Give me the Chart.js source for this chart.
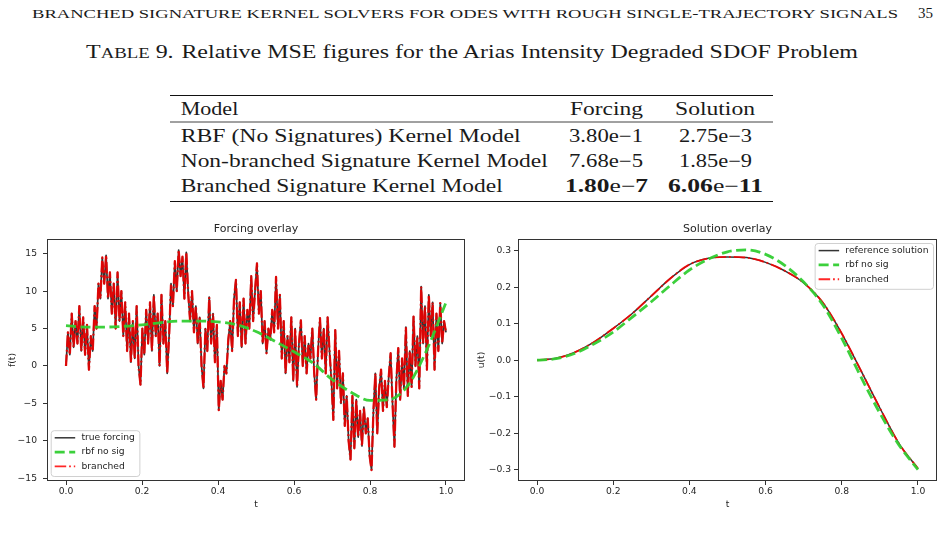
<!DOCTYPE html>
<html><head><meta charset="utf-8">
<script src="https://cdn.jsdelivr.net/npm/chart.js@4.4.1/dist/chart.umd.min.js"></script>
<style>
html,body{margin:0;padding:0;background:#fff;width:947px;height:543px;overflow:hidden;}
svg{position:absolute;left:0;top:0;}
.cv{position:absolute;}
</style></head><body>
<svg width="947" height="215" font-family="Liberation Serif" fill="#1a1a1a">
  <text x="32" y="18.3" font-size="13.5" textLength="866" lengthAdjust="spacingAndGlyphs">BRANCHED SIGNATURE KERNEL SOLVERS FOR ODES WITH ROUGH SINGLE-TRAJECTORY SIGNALS</text>
  <text x="918" y="18.3" font-size="14" textLength="15" lengthAdjust="spacingAndGlyphs">35</text>
  <text x="86" y="58.3" font-size="18.5" textLength="772" lengthAdjust="spacingAndGlyphs">T<tspan font-size="14.5">ABLE</tspan> 9.<tspan dx="6">Relative MSE figures for the Arias Intensity Degraded SDOF Problem</tspan></text>
  <line x1="170" y1="95.5" x2="773" y2="95.5" stroke="#111" stroke-width="1"/>
  <line x1="170" y1="122" x2="773" y2="122" stroke="#111" stroke-width="0.8"/>
  <line x1="170" y1="201.5" x2="773" y2="201.5" stroke="#111" stroke-width="1"/>
  <g font-size="18">
    <text x="180.7" y="115.3" textLength="57.6" lengthAdjust="spacingAndGlyphs">Model</text>
    <text x="570" y="115.3" textLength="73" lengthAdjust="spacingAndGlyphs">Forcing</text>
    <text x="675" y="115.3" textLength="80" lengthAdjust="spacingAndGlyphs">Solution</text>
    <text x="180.7" y="142.3" textLength="340" lengthAdjust="spacingAndGlyphs">RBF (No Signatures) Kernel Model</text>
    <text x="569" y="142.3" textLength="74" lengthAdjust="spacingAndGlyphs">3.80e−1</text>
    <text x="679" y="142.3" textLength="73" lengthAdjust="spacingAndGlyphs">2.75e−3</text>
    <text x="180.7" y="167.3" textLength="367" lengthAdjust="spacingAndGlyphs">Non-branched Signature Kernel Model</text>
    <text x="569" y="167.3" textLength="74" lengthAdjust="spacingAndGlyphs">7.68e−5</text>
    <text x="679" y="167.3" textLength="73" lengthAdjust="spacingAndGlyphs">1.85e−9</text>
    <text x="180.7" y="192.3" textLength="322" lengthAdjust="spacingAndGlyphs">Branched Signature Kernel Model</text>
    <text x="565" y="192.3" textLength="83" lengthAdjust="spacingAndGlyphs"><tspan font-weight="bold">1.80</tspan>e−<tspan font-weight="bold">7</tspan></text>
    <text x="668" y="192.3" textLength="95" lengthAdjust="spacingAndGlyphs"><tspan font-weight="bold">6.06</tspan>e−<tspan font-weight="bold">11</tspan></text>
  </g>
</svg>
<div class="cv" style="left:0;top:215px;width:470px;height:305px;"><canvas id="c1" width="470" height="305"></canvas></div>
<div class="cv" style="left:470px;top:215px;width:477px;height:305px;"><canvas id="c2" width="477" height="305"></canvas></div>
<script>
// ---------- data ----------
const forcingTrue = [
  0, 4.5, 1.5, 7, 2.5, 6, 3, 8, 2, 6.5,
  1.5, 5.5, -0.5, 4, 2, 8, 5, 11, 9, 14.5,
  11, 14.8, 9, 12.5, 7, 11, 5, 12.5, 6, 10,
  4, 8.5, 2, 7, 0.5, 6, 1, 8, 0, -2.5,
  5, 1.5, 7.5, 3, 8.5, 2, 9.5, 4, 7, 0,
  9.5, 3, 6, -1, 4, 11, 8, 14, 10, 15.5,
  12, 14.6, 9, 15.2, 9.7, 6, 10, 4.5, 8, 3,
  6.5, 0, -3, 5, 2, 9.2, 3, 7, 0.5, 5.5,
  -5.9, -2, -4.5, 0, -1, 3.5, 6, 2, 9, 11.5,
  4, 8.5, 2.5, 9, 3, 7.5, 5, 12, 6, 10,
  13.7, 7, 10, 3, 6, 1.7, 5, 3.5, 7.5, 4.5,
  11.9, 5, 9.5, 1, 6, -1, 4, 0.5, 6.5, -2,
  5, -2.8, 3, 6.1, 0, 4, -1, 3, 1, 5,
  -1, -4.5, 2, 6.4, 1, 5, -1, 6.5, 2, -2,
  -7.2, 4.8, -3, 2, -5, -1, -8, -4, -10, -12.5,
  -4, -11, -4.5, -9.5, -6, -10.7, -5.5, -9, -7, -12,
  -13.9, -6, -1, -9, -3, -0.5, -6, -2, -5.5, -1.5,
  1.7, -5, -10.8, -2, 2.4, -4.5, 1, -3, 5.2, -4,
  2, -2.8, 6.6, 0, 4, -3, 10.6, 3, 8, -0.5,
  9.5, 4, 8.5, -0.5, 7, 2, 8.4, 3, 6, 4.5
];
const forcingBranched = forcingTrue.slice();
const coarseT = [0, 0.05, 0.1, 0.15, 0.2, 0.25, 0.3, 0.35, 0.4, 0.45, 0.5, 0.55, 0.6, 0.65, 0.7, 0.75, 0.8, 0.85, 0.9, 0.95, 1.0];
const forcingRbf = [5.4, 5.2, 5.2, 5.3, 5.5, 5.8, 6.0, 6.0, 5.9, 5.5, 4.6, 3.3, 1.9, 0.4, -1.8, -3.5, -4.6, -4.5, -2.6, 2.2, 8.5];
const solutionRef = [0.0, 0.005, 0.022, 0.050, 0.087, 0.128, 0.176, 0.224, 0.262, 0.279, 0.283, 0.281, 0.268, 0.245, 0.212, 0.158, 0.073, -0.028, -0.131, -0.228, -0.297];
const solutionBranched = [0.0, 0.005, 0.022, 0.050, 0.087, 0.128, 0.176, 0.224, 0.262, 0.279, 0.283, 0.281, 0.268, 0.245, 0.212, 0.158, 0.073, -0.028, -0.131, -0.228, -0.297];
const solutionRbf = [0.0, 0.004, 0.019, 0.045, 0.077, 0.118, 0.160, 0.205, 0.247, 0.277, 0.297, 0.302, 0.290, 0.260, 0.214, 0.152, 0.060, -0.045, -0.145, -0.232, -0.300];
const xTicks = [0, 0.2, 0.4, 0.6, 0.8, 1.0];
const forcingYTicks = [-15, -10, -5, 0, 5, 10, 15];
const solutionYTicks = [-0.3, -0.2, -0.1, 0.0, 0.1, 0.2, 0.3];
const forcingLabels = ['true forcing', 'rbf no sig', 'branched'];
const solutionLabels = ['reference solution', 'rbf no sig', 'branched'];

// ---------- helpers ----------
const fineT = forcingTrue.map((_, i) => i / (forcingTrue.length - 1));
const pts = (xs, ys) => ys.map((y, i) => ({x: xs[i], y}));
const minus = s => s.replace('-', '\u2212');
const FONT = 'DejaVu Sans';
const TXT = '#262626';

const styleBlack = {borderColor: 'rgba(0,0,0,0.8)', borderWidth: 1.5, borderDash: []};
const styleGreen = {borderColor: 'rgba(50,205,50,0.95)', borderWidth: 2.8, borderDash: [10, 4.5]};
const styleRed = {borderColor: 'rgba(255,0,0,0.85)', borderWidth: 1.9, borderDash: [11.5, 2.9, 1.8, 2.9]};
const styleRedForcing = {borderColor: 'rgba(235,0,0,0.9)', borderWidth: 2.3, borderDash: [11.5, 2.9, 1.8, 2.9]};
const styleBlackForcing = {borderColor: 'rgba(0,0,0,0.8)', borderWidth: 1.7, borderDash: []};

const decor = {
  id: 'decor',
  afterDatasetsDraw(chart, args, o) {
    const {ctx, chartArea: a} = chart;
    ctx.save();
    ctx.strokeStyle = '#333'; ctx.lineWidth = 1; ctx.setLineDash([]);
    ctx.strokeRect(Math.round(a.left) + 0.5, Math.round(a.top) + 0.5, Math.round(a.right - a.left) - 1, Math.round(a.bottom - a.top) - 1);
    // title
    ctx.fillStyle = TXT; ctx.font = '11px "' + FONT + '"';
    ctx.textAlign = 'center'; ctx.textBaseline = 'middle';
    ctx.fillText(o.title, (a.left + a.right) / 2, o.titleY);
    // legend
    const L = o.legend;
    ctx.font = '9.2px "' + FONT + '"';
    const tw = Math.max(...L.labels.map(s => ctx.measureText(s).width));
    const w = 30.7 + tw + 4.5, h = 45.8;
    let bx, by;
    if (L.corner === 'll') { bx = a.left + 3.7; by = a.bottom - 5 - h; }
    else { bx = a.right - 4 - w; by = a.top + 4; }
    ctx.beginPath();
    ctx.roundRect(bx + 0.5, by + 0.5, w, h, 3);
    ctx.fillStyle = 'rgba(255,255,255,0.8)'; ctx.fill();
    ctx.strokeStyle = '#d0d0d0'; ctx.lineWidth = 1; ctx.stroke();
    L.styles.forEach((st, i) => {
      const cy = by + 7.6 + i * 14.3;
      ctx.beginPath();
      ctx.strokeStyle = st.borderColor; ctx.lineWidth = st.borderWidth; ctx.setLineDash(st.borderDash);
      ctx.moveTo(bx + 4, cy); ctx.lineTo(bx + 24.5, cy); ctx.stroke();
      ctx.setLineDash([]);
      ctx.fillStyle = TXT; ctx.textAlign = 'left'; ctx.textBaseline = 'middle';
      ctx.fillText(L.labels[i], bx + 30.7, cy);
    });
    ctx.restore();
  }
};

function makeScales(yMin, yMax, yTicks, yLabel, yFmt, yWidth, yPad, yTitlePad) {
  const common = {
    grid: {display: true, drawOnChartArea: false, drawTicks: true, tickLength: 4, tickColor: '#333', lineWidth: 1},
    border: {display: false}
  };
  return {
    x: Object.assign({}, common, {
      type: 'linear', min: -0.05, max: 1.05,
      afterBuildTicks: ax => { ax.ticks = xTicks.map(v => ({value: v})); },
      afterFit: ax => { ax.height = 39; },
      ticks: {color: TXT, font: {family: FONT, size: 9.2}, padding: 1, maxRotation: 0, callback: v => v.toFixed(1)},
      title: {display: true, text: 't', color: TXT, font: {family: FONT, size: 9.2}, padding: {top: 0, bottom: 10}}
    }),
    y: Object.assign({}, common, {
      type: 'linear', min: yMin, max: yMax,
      afterBuildTicks: ax => { ax.ticks = yTicks.map(v => ({value: v})); },
      afterFit: ax => { ax.width = yWidth; },
      ticks: {color: TXT, font: {family: FONT, size: 9.2}, padding: yPad, callback: yFmt},
      title: {display: true, text: yLabel, color: TXT, font: {family: FONT, size: 9.2}, padding: {top: yTitlePad, bottom: 0}}
    })
  };
}

const lineDs = (data, st, order, smooth) => Object.assign({
  data, order, pointRadius: 0, fill: false, borderCapStyle: 'butt', borderJoinStyle: 'round',
  cubicInterpolationMode: smooth ? 'monotone' : 'default', tension: 0
}, st);

new Chart(document.getElementById('c1'), {
  type: 'line',
  data: {datasets: [
    lineDs(pts(fineT, forcingTrue), styleBlackForcing, 3, false),
    lineDs(pts(fineT, forcingBranched), styleRedForcing, 2, false),
    lineDs(pts(coarseT, forcingRbf), styleGreen, 1, true)
  ]},
  options: {
    responsive: false, animation: false, devicePixelRatio: 1,
    layout: {padding: {left: 0, top: 24, right: 5, bottom: 0}},
    scales: makeScales(-15.37, 16.97, forcingYTicks, 'f(t)', v => minus(String(v)), 47, 6, 6.8),
    plugins: {legend: {display: false}, tooltip: {enabled: false},
      decor: {title: 'Forcing overlay', titleY: 14, legend: {corner: 'll', labels: forcingLabels, styles: [styleBlack, styleGreen, styleRed]}}}
  },
  plugins: [decor]
});

new Chart(document.getElementById('c2'), {
  type: 'line',
  data: {datasets: [
    lineDs(pts(coarseT, solutionRef), styleBlack, 3, true),
    lineDs(pts(coarseT, solutionBranched), styleRed, 2, true),
    lineDs(pts(coarseT, solutionRbf), styleGreen, 1, true)
  ]},
  options: {
    responsive: false, animation: false, devicePixelRatio: 1,
    layout: {padding: {left: 0, top: 24, right: 10, bottom: 0}},
    scales: makeScales(-0.331, 0.332, solutionYTicks, 'u(t)', v => minus(v.toFixed(1)), 48, 3, 6.2),
    plugins: {legend: {display: false}, tooltip: {enabled: false},
      decor: {title: 'Solution overlay', titleY: 14, legend: {corner: 'ur', labels: solutionLabels, styles: [styleBlack, styleGreen, styleRed]}}}
  },
  plugins: [decor]
});
</script>
</body></html>
